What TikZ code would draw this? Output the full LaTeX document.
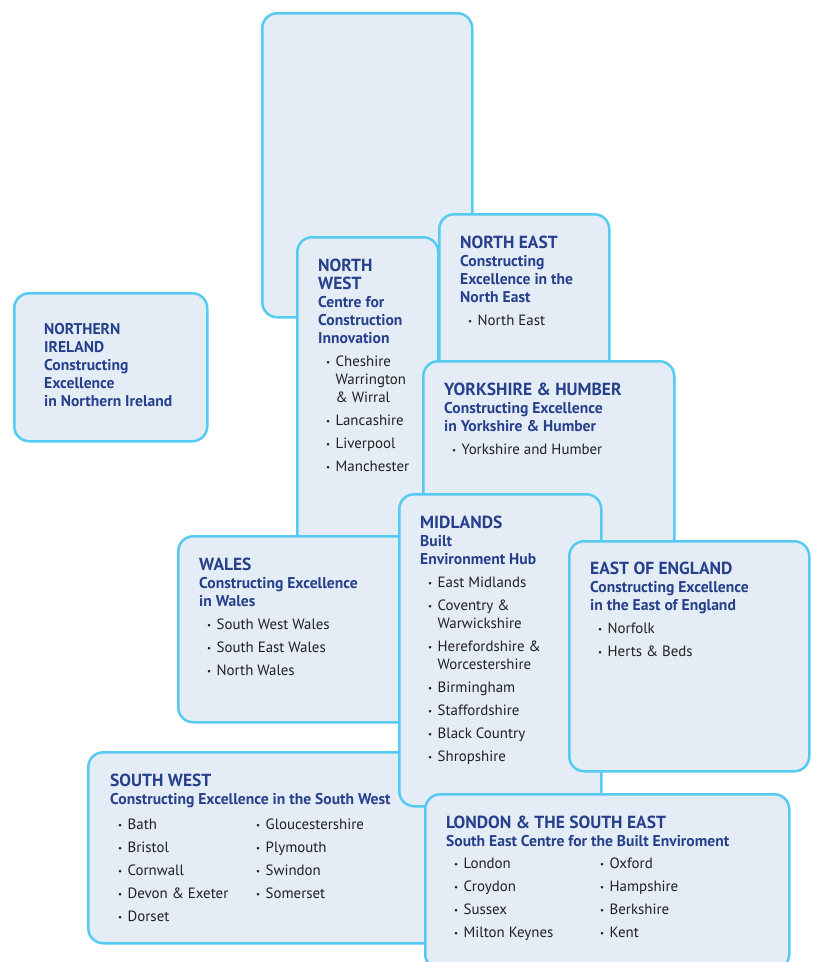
\documentclass[tikz,border=0pt]{standalone}
\usepackage{fontspec}
\setmainfont{PT Sans}
\usetikzlibrary{positioning}
\definecolor{panel}{HTML}{E4ECF6}
\definecolor{edge}{HTML}{55CBF2}
\definecolor{navy}{HTML}{27408B}
\definecolor{ink}{HTML}{231F20}
\renewcommand\arraystretch{1.28}
\newcommand\rgn[1]{{\fontsize{17.5}{18}\selectfont\bfseries\color{navy}#1}}
\newcommand\org[1]{{\fontsize{15.6}{18}\selectfont\bfseries\color{navy}#1}}
\newcommand\dotmark{\makebox[9.5pt][l]{\raisebox{1pt}{\fontsize{9}{9}\selectfont\textbullet}}}
\newcommand\itm[1]{\hspace*{8pt}\dotmark#1}
\newcommand\itx[1]{\hspace*{17.5pt}#1}
\tikzset{
  region/.style={draw=edge, fill=panel, line width=2.5pt, rounded corners=15pt, anchor=north west, inner sep=0pt},
  blurb/.style={align=left, inner sep=0pt, text=ink, font=\fontsize{14.9}{18}\selectfont},
}
\begin{document}
\begin{tikzpicture}[x=1pt,y=-1pt]
\useasboundingbox (0,0) rectangle (814,962);
\node[region, minimum width=210pt, minimum height=304pt] (scot) at (261,12) {};
\node[region, minimum width=193pt, minimum height=148pt] (ni) at (13,292) {};
\node[blurb, below right=31pt and 31pt of ni.north west] (nitxt) {\org{NORTHERN}\\ \org{IRELAND}\\ \org{Constructing}\\ \org{Excellence}\\ \org{in Northern Ireland}};
\node[region, minimum width=141pt, minimum height=364pt] (nw) at (296,236) {};
\node[blurb, below right=23pt and 22pt of nw.north west] (nwtxt) {\rgn{NORTH}\\ \rgn{WEST}\\ \org{Centre for}\\ \org{Construction}\\ \org{Innovation}\\[5pt]
  \itm{Cheshire}\\ \itx{Warrington}\\ \itx{\& Wirral}\\[5pt] \itm{Lancashire}\\[5pt] \itm{Liverpool}\\[5pt] \itm{Manchester}};
\node[region, minimum width=170pt, minimum height=167pt] (ne) at (438,213) {};
\node[blurb, below right=23pt and 22pt of ne.north west] (netxt) {\rgn{NORTH EAST}\\ \org{Constructing}\\ \org{Excellence in the}\\ \org{North East}\\[5pt] \itm{North East}};
\node[region, minimum width=251pt, minimum height=220pt] (yh) at (422,360) {};
\node[blurb, below right=23pt and 22pt of yh.north west] (yhtxt) {\rgn{YORKSHIRE \& HUMBER}\\ \org{Constructing Excellence}\\ \org{in Yorkshire \& Humber}\\[5pt] \itm{Yorkshire and Humber}};
\node[region, minimum width=250pt, minimum height=186pt] (wal) at (177,535) {};
\node[blurb, below right=23pt and 22pt of wal.north west] (waltxt) {\rgn{WALES}\\ \org{Constructing Excellence}\\ \org{in Wales}\\[5pt]
  \itm{South West Wales}\\[5pt] \itm{South East Wales}\\[5pt] \itm{North Wales}};
\node[region, minimum width=413pt, minimum height=191pt] (sw) at (87,751) {};
\node[blurb, below right=23pt and 23pt of sw.north west] (swtxt) {\rgn{SOUTH WEST}\\ \org{Constructing Excellence in the South West}\\[4pt]
  \begin{tabular}[t]{@{}p{138pt}@{}l@{}}
  \itm{Bath} & \itm{Gloucestershire}\\
  \itm{Bristol} & \itm{Plymouth}\\
  \itm{Cornwall} & \itm{Swindon}\\
  \itm{Devon \& Exeter} & \itm{Somerset}\\
  \itm{Dorset} &
  \end{tabular}};
\node[region, minimum width=202pt, minimum height=312pt] (mid) at (398,493) {};
\node[blurb, below right=23pt and 22pt of mid.north west] (midtxt) {\rgn{MIDLANDS}\\ \org{Built}\\ \org{Environment Hub}\\[5pt]
  \itm{East Midlands}\\[5pt] \itm{Coventry \&}\\ \itx{Warwickshire}\\[5pt] \itm{Herefordshire \&}\\ \itx{Worcestershire}\\[5pt]
  \itm{Birmingham}\\[5pt] \itm{Staffordshire}\\[5pt] \itm{Black Country}\\[5pt] \itm{Shropshire}};
\node[region, minimum width=240pt, minimum height=230pt] (eoe) at (568,540) {};
\node[blurb, below right=22pt and 22pt of eoe.north west] (eoetxt) {\rgn{EAST OF ENGLAND}\\ \org{Constructing Excellence}\\ \org{in the East of England}\\[5pt]
  \itm{Norfolk}\\[5pt] \itm{Herts \& Beds}};
\node[region, minimum width=364pt, minimum height=175pt] (lon) at (424,793) {};
\node[blurb, below right=23pt and 22pt of lon.north west] (lontxt) {\rgn{LONDON \& THE SOUTH EAST}\\ \org{South East Centre for the Built Enviroment}\\[4pt]
  \begin{tabular}[t]{@{}p{146pt}@{}l@{}}
  \itm{London} & \itm{Oxford}\\
  \itm{Croydon} & \itm{Hampshire}\\
  \itm{Sussex} & \itm{Berkshire}\\
  \itm{Milton Keynes} & \itm{Kent}
  \end{tabular}};
\end{tikzpicture}
\end{document}
